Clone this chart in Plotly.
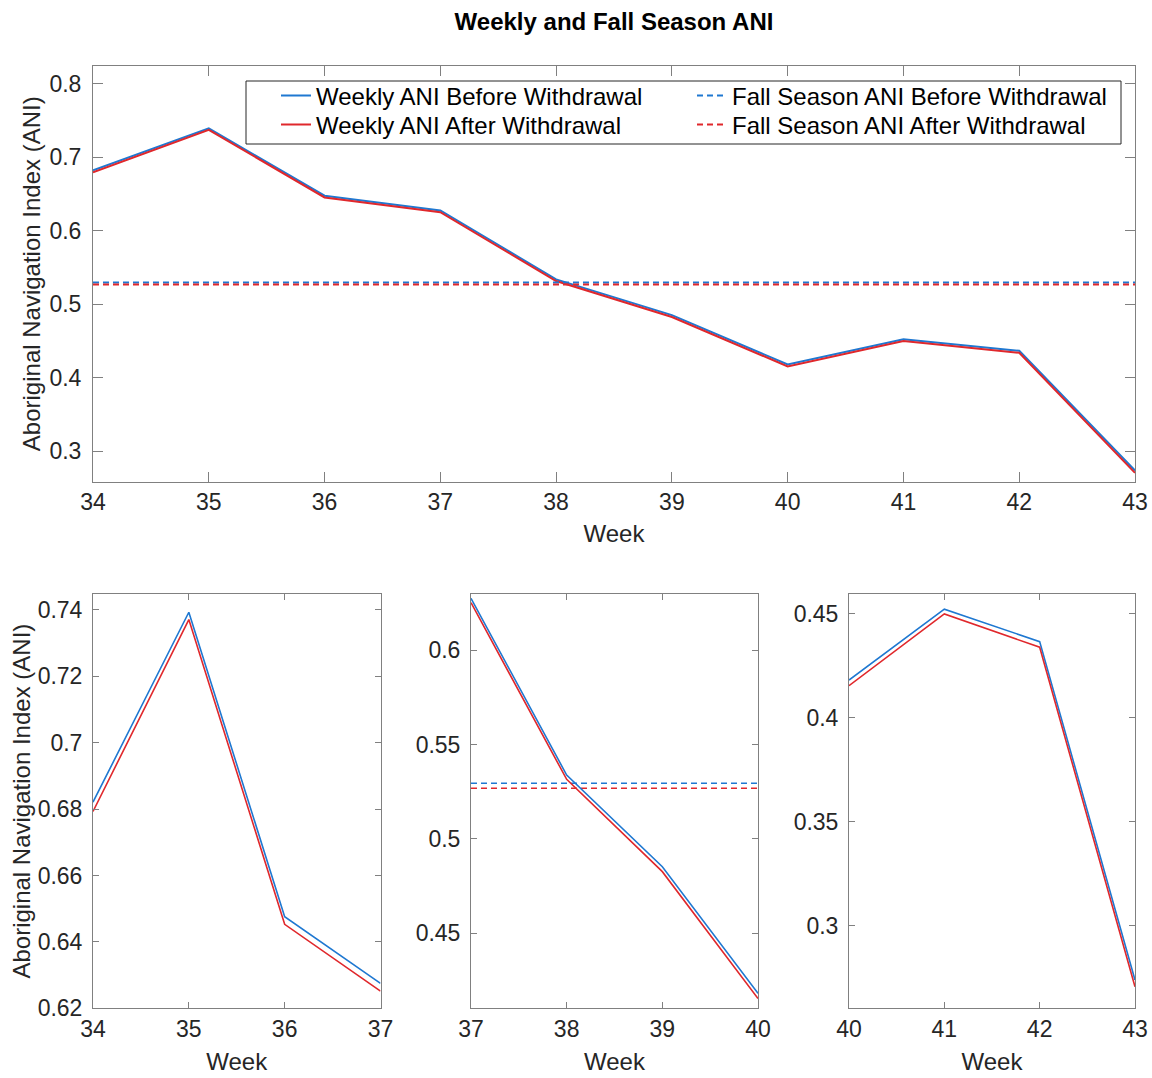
import plotly.graph_objects as go

weeks = [34, 35, 36, 37, 38, 39, 40, 41, 42, 43]
ani_before = [0.6821, 0.7393, 0.6476, 0.6275, 0.5339, 0.4853, 0.4182, 0.4523, 0.4367, 0.2740]
ani_after = [0.6793, 0.7371, 0.6453, 0.6252, 0.5316, 0.4827, 0.4155, 0.4500, 0.4340, 0.2708]
fall_before = 0.5295
fall_after = 0.5269

blue = "#1f78d1"
red = "#e0282c"
FONT = "Liberation Sans, Arial, Helvetica, sans-serif"
AX = "#808080"
TXT = "#262626"

W, H = 1152, 1078


def px(x):
    return x / W


def py(y):
    return 1 - y / H


fig = go.Figure()

# ---- top panel (each legend entry in its own legend box, positioned like the reference) ----
fig.add_trace(go.Scatter(x=weeks, y=ani_before, mode="lines", name="Weekly ANI Before Withdrawal",
                         line=dict(color=blue, width=2), xaxis="x", yaxis="y", legend="legend"))
fig.add_trace(go.Scatter(x=weeks, y=ani_after, mode="lines", name="Weekly ANI After Withdrawal",
                         line=dict(color=red, width=2), xaxis="x", yaxis="y", legend="legend2"))
fig.add_trace(go.Scatter(x=[weeks[0], weeks[-1]], y=[fall_before, fall_before], mode="lines",
                         name="Fall Season ANI Before Withdrawal",
                         line=dict(color=blue, width=2, dash="6px,4px"), xaxis="x", yaxis="y",
                         legend="legend3"))
fig.add_trace(go.Scatter(x=[weeks[0], weeks[-1]], y=[fall_after, fall_after], mode="lines",
                         name="Fall Season ANI After Withdrawal",
                         line=dict(color=red, width=2, dash="6px,4px"), xaxis="x", yaxis="y",
                         legend="legend4"))

# ---- bottom panels ----
panels = [(0, 4, "x2", "y2", False), (3, 7, "x3", "y3", True), (6, 10, "x4", "y4", False)]
for a, b, xa, ya, show_fall in panels:
    xs = weeks[a:b]
    if show_fall:
        fig.add_trace(go.Scatter(x=[xs[0], xs[-1]], y=[fall_before, fall_before], mode="lines",
                                 line=dict(color=blue, width=1.6, dash="6px,4px"),
                                 showlegend=False, xaxis=xa, yaxis=ya))
        fig.add_trace(go.Scatter(x=[xs[0], xs[-1]], y=[fall_after, fall_after], mode="lines",
                                 line=dict(color=red, width=1.6, dash="6px,4px"),
                                 showlegend=False, xaxis=xa, yaxis=ya))
    fig.add_trace(go.Scatter(x=xs, y=ani_before[a:b], mode="lines",
                             line=dict(color=blue, width=1.6), showlegend=False, xaxis=xa, yaxis=ya))
    fig.add_trace(go.Scatter(x=xs, y=ani_after[a:b], mode="lines",
                             line=dict(color=red, width=1.6), showlegend=False, xaxis=xa, yaxis=ya))


def axis_style(ticklen, **kw):
    d = dict(showline=True, linecolor=AX, linewidth=1, mirror="ticks", ticks="inside",
             ticklen=ticklen, tickcolor=AX, tickwidth=1, showgrid=False, zeroline=False,
             automargin=False, ticklabeloverflow="allow",
             tickfont=dict(family=FONT, size=23, color=TXT))
    d.update(kw)
    return d


title_font = dict(family=FONT, size=24, color=TXT)
ylabel = "Aboriginal Navigation Index (ANI)"

y_top = [0.3, 0.4, 0.5, 0.6, 0.7, 0.8]
y_b1 = [0.62, 0.64, 0.66, 0.68, 0.70, 0.72, 0.74]
y_b2 = [0.45, 0.50, 0.55, 0.60]
y_b3 = [0.30, 0.35, 0.40, 0.45]


def lab(v):
    return ("%.2f" % v).rstrip("0")


def leg(xpx, ypx):
    return dict(x=px(xpx), y=py(ypx), xanchor="left", yanchor="middle",
                bgcolor="rgba(0,0,0,0)", borderwidth=0, itemwidth=30,
                font=dict(family=FONT, size=24, color="black"))


top_dom = [py(481.5), py(66)]
bot_dom = [py(1008.3), py(594)]

fig.update_layout(
    width=W, height=H,
    margin=dict(l=0, r=0, t=0, b=0, autoexpand=False),
    paper_bgcolor="white", plot_bgcolor="white",
    font=dict(family=FONT, color=TXT),
    title=dict(text="<b>Weekly and Fall Season ANI</b>", x=px(614), xanchor="center",
               y=py(22), yanchor="middle", font=dict(family=FONT, size=24, color="black")),
    xaxis=axis_style(10, domain=[px(93), px(1135)], range=[34, 43], tickvals=weeks,
                     anchor="y", title=dict(text="Week", font=title_font, standoff=11)),
    yaxis=axis_style(10, domain=top_dom, range=[0.259, 0.824], ticklabelstandoff=6,
                     tickvals=y_top, ticktext=[lab(v) for v in y_top], anchor="x",
                     title=dict(text=ylabel, font=title_font, standoff=2)),
    xaxis2=axis_style(6, domain=[px(93), px(380.5)], range=[34, 37], tickvals=weeks[0:4],
                      anchor="y2", title=dict(text="Week", font=title_font, standoff=12)),
    yaxis2=axis_style(6, domain=bot_dom, range=[0.62, 0.7448], ticklabelstandoff=5,
                      tickvals=y_b1, ticktext=[lab(v) for v in y_b1], anchor="x2",
                      title=dict(text=ylabel, font=title_font, standoff=0)),
    xaxis3=axis_style(6, domain=[px(471), px(758)], range=[37, 40], tickvals=weeks[3:7],
                      anchor="y3", title=dict(text="Week", font=title_font, standoff=12)),
    yaxis3=axis_style(6, domain=bot_dom, range=[0.4103, 0.6298], ticklabelstandoff=5,
                      tickvals=y_b2, ticktext=[lab(v) for v in y_b2], anchor="x3"),
    xaxis4=axis_style(6, domain=[px(849), px(1135)], range=[40, 43], tickvals=weeks[6:10],
                      anchor="y4", title=dict(text="Week", font=title_font, standoff=12)),
    yaxis4=axis_style(6, domain=bot_dom, range=[0.2604, 0.4596], ticklabelstandoff=5,
                      tickvals=y_b3, ticktext=[lab(v) for v in y_b3], anchor="x4"),
    legend=leg(276, 96),
    legend2=leg(276, 125),
    legend3=leg(692, 96),
    legend4=leg(692, 125),
    shapes=[dict(type="rect", xref="paper", yref="paper", x0=px(246), x1=px(1121),
                 y0=py(144), y1=py(81), line=dict(color="#262626", width=1),
                 fillcolor="white", layer="above")],
)

# remove the default page margin so the 1152x1078 figure fills the window exactly
fig.write_html("out.html", config={"displayModeBar": False},
               post_script="document.body.style.margin='0';document.body.style.overflow='hidden';")
